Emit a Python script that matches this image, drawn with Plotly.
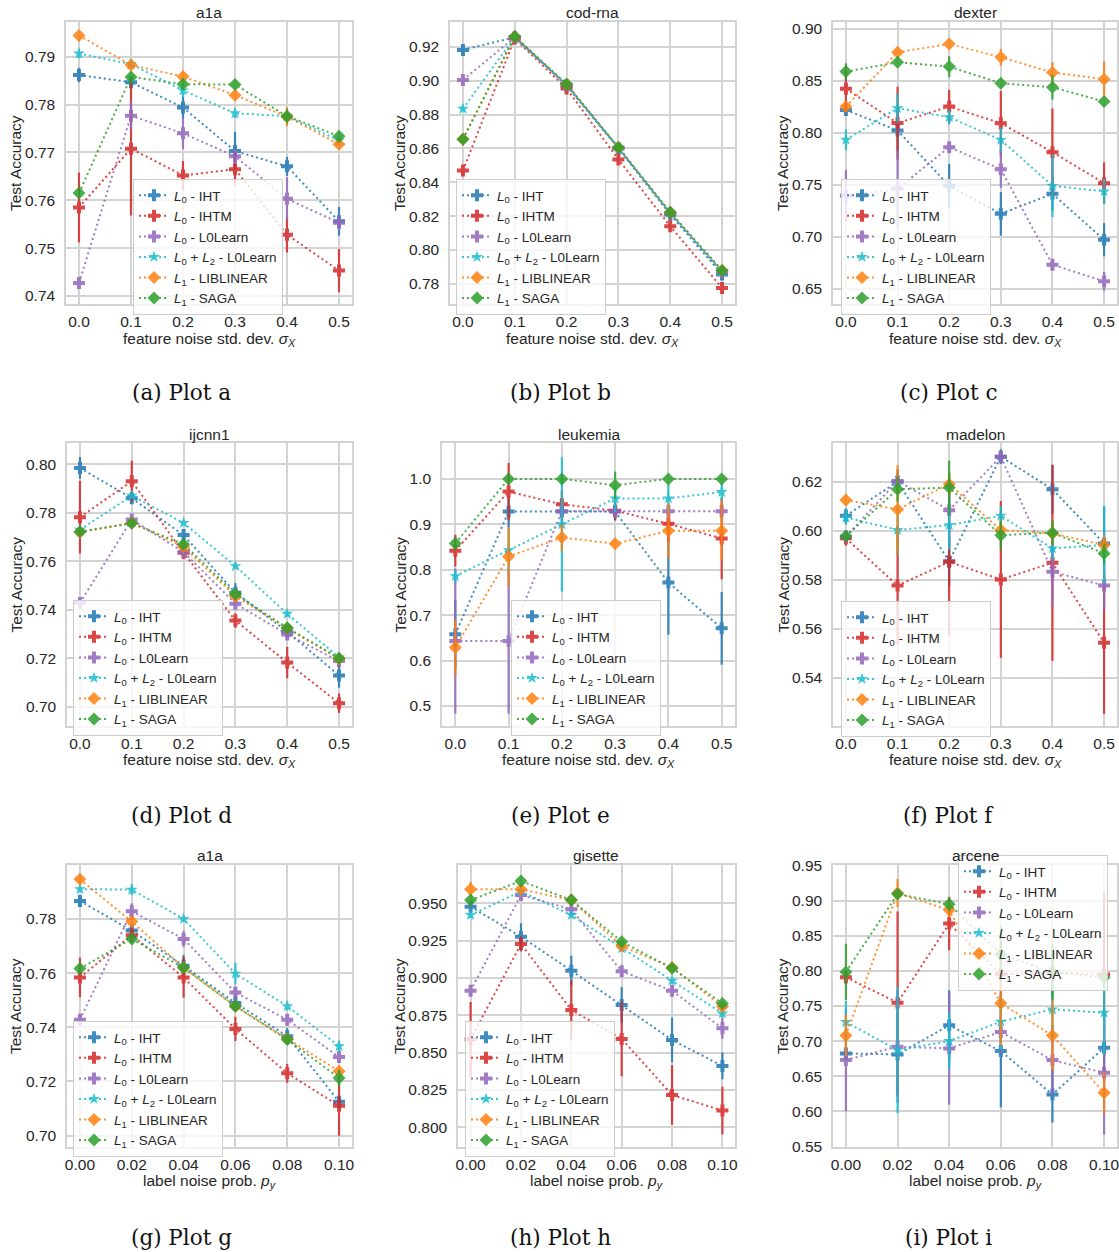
import plotly.graph_objects as go

# ---------------- data ----------------
methods = [
    "<i>L</i><sub>0</sub> - IHT",
    "<i>L</i><sub>0</sub> - IHTM",
    "<i>L</i><sub>0</sub> - L0Learn",
    "<i>L</i><sub>0</sub> + <i>L</i><sub>2</sub> - L0Learn",
    "<i>L</i><sub>1</sub> - LIBLINEAR",
    "<i>L</i><sub>1</sub> - SAGA",
]
colors = ["#1f77b4", "#d62728", "#9467bd", "#17becf", "#ff7f0e", "#2ca02c"]
symbols = ["cross", "cross", "cross", "star", "diamond", "diamond"]
msizes = [10, 10, 10, 9, 10, 10]

x_feature = [0.0, 0.1, 0.2, 0.3, 0.4, 0.5]
x_label = [0.0, 0.02, 0.04, 0.06, 0.08, 0.10]
x_feature_ticks = ["0.0", "0.1", "0.2", "0.3", "0.4", "0.5"]
x_label_ticks = ["0.00", "0.02", "0.04", "0.06", "0.08", "0.10"]

titles = ["a1a", "cod-rna", "dexter", "ijcnn1", "leukemia", "madelon", "a1a", "gisette", "arcene"]
captions = ["(a) Plot a", "(b) Plot b", "(c) Plot c", "(d) Plot d", "(e) Plot e",
            "(f) Plot f", "(g) Plot g", "(h) Plot h", "(i) Plot i"]

a_mean = [
    [0.7862, 0.7847, 0.7794, 0.7703, 0.7671, 0.7556],
    [0.7585, 0.7708, 0.7652, 0.7665, 0.7528, 0.7453],
    [0.7427, 0.7777, 0.7740, 0.7692, 0.7603, 0.7553],
    [0.7907, 0.7885, 0.7830, 0.7782, 0.7776, 0.7725],
    [0.7945, 0.7883, 0.7859, 0.7820, 0.7775, 0.7717],
    [0.7615, 0.7858, 0.7843, 0.7842, 0.7776, 0.7734],
]
a_err = [
    [0.0015, 0.001, 0.0022, 0.004, 0.002, 0.003],
    [0.0073, 0.014, 0.003, 0.0035, 0.0037, 0.0045],
    [0.0008, 0.003, 0.0033, 0.0015, 0.0045, 0.0015],
    [0.001, 0.001, 0.0015, 0.001, 0.001, 0.001],
    [0.0008, 0.001, 0.0008, 0.0012, 0.002, 0.0008],
    [0.001, 0.001, 0.0012, 0.0008, 0.0015, 0.0008],
]
b_mean = [
    [0.9183, 0.9258, 0.8972, 0.8600, 0.8210, 0.7855],
    [0.8470, 0.9250, 0.8955, 0.8535, 0.8140, 0.7775],
    [0.9005, 0.9258, 0.8975, 0.8602, 0.8215, 0.7868],
    [0.8835, 0.9258, 0.8978, 0.8604, 0.8218, 0.7872],
    [0.8655, 0.9262, 0.8980, 0.8605, 0.8222, 0.7878],
    [0.8655, 0.9262, 0.8980, 0.8605, 0.8222, 0.7878],
]
b_err = [
    [0.0015, 0.001, 0.001, 0.001, 0.001, 0.001],
    [0.003, 0.001, 0.001, 0.001, 0.001, 0.001],
    [0.001, 0.001, 0.001, 0.001, 0.001, 0.001],
    [0.001, 0.001, 0.001, 0.001, 0.001, 0.001],
    [0.001, 0.001, 0.001, 0.001, 0.001, 0.001],
    [0.001, 0.001, 0.001, 0.001, 0.001, 0.001],
]
c_mean = [
    [0.8222, 0.8024, 0.7492, 0.7223, 0.7415, 0.6974],
    [0.8425, 0.8095, 0.8254, 0.8094, 0.7816, 0.7518],
    [0.7396, 0.7463, 0.7864, 0.7652, 0.6734, 0.6574],
    [0.7935, 0.8238, 0.8152, 0.7934, 0.7492, 0.7438],
    [0.8254, 0.8776, 0.8856, 0.8728, 0.8581, 0.8517],
    [0.8590, 0.8680, 0.8638, 0.8478, 0.8440, 0.8302],
]
c_err = [
    [0.005, 0.02, 0.021, 0.021, 0.016, 0.016],
    [0.022, 0.035, 0.016, 0.031, 0.042, 0.02],
    [0.025, 0.037, 0.004, 0.018, 0.004, 0.009],
    [0.01, 0.014, 0.007, 0.012, 0.03, 0.012],
    [0.005, 0.003, 0.004, 0.008, 0.01, 0.017],
    [0.008, 0.005, 0.01, 0.004, 0.012, 0.003],
]
d_mean = [
    [0.7985, 0.7860, 0.7708, 0.7470, 0.7310, 0.7128],
    [0.7782, 0.7930, 0.7635, 0.7355, 0.7182, 0.7014],
    [0.7428, 0.7772, 0.7638, 0.7425, 0.7298, 0.7188],
    [0.7730, 0.7870, 0.7758, 0.7580, 0.7383, 0.7203],
    [0.7720, 0.7758, 0.7660, 0.7455, 0.7323, 0.7198],
    [0.7722, 0.7757, 0.7670, 0.7465, 0.7325, 0.7200],
]
d_err = [
    [0.0045, 0.002, 0.002, 0.004, 0.002, 0.005],
    [0.015, 0.0085, 0.0025, 0.003, 0.0065, 0.004],
    [0.001, 0.001, 0.001, 0.001, 0.001, 0.001],
    [0.001, 0.001, 0.001, 0.001, 0.001, 0.001],
    [0.001, 0.001, 0.001, 0.001, 0.001, 0.001],
    [0.001, 0.001, 0.001, 0.001, 0.001, 0.001],
]
e_mean = [
    [0.658, 0.928, 0.928, 0.928, 0.772, 0.671],
    [0.842, 0.972, 0.944, 0.930, 0.901, 0.869],
    [0.643, 0.643, 0.929, 0.929, 0.929, 0.929],
    [0.786, 0.843, 0.900, 0.957, 0.957, 0.971],
    [0.629, 0.829, 0.871, 0.857, 0.886, 0.886],
    [0.858, 1.000, 1.000, 0.986, 1.000, 1.000],
]
e_err = [
    [0.075, 0.035, 0.03, 0.02, 0.115, 0.08],
    [0.035, 0.063, 0.03, 0.02, 0.04, 0.09],
    [0.16, 0.16, 0.02, 0.015, 0.015, 0.015],
    [0.015, 0.05, 0.148, 0.03, 0.03, 0.02],
    [0.06, 0.065, 0.03, 0.01, 0.06, 0.065],
    [0.015, 0.001, 0.001, 0.03, 0.001, 0.001],
]
f_mean = [
    [0.6061, 0.6200, 0.5875, 0.6302, 0.6169, 0.5948],
    [0.5969, 0.5776, 0.5873, 0.5801, 0.5869, 0.5543],
    [0.5976, 0.6203, 0.6084, 0.6302, 0.5833, 0.5776],
    [0.6054, 0.6003, 0.6023, 0.6061, 0.5928, 0.5942],
    [0.6125, 0.6087, 0.6190, 0.6003, 0.5989, 0.5942],
    [0.5978, 0.6169, 0.6176, 0.5982, 0.5992, 0.5907],
]
f_err = [
    [0.003, 0.005, 0.01, 0.003, 0.01, 0.015],
    [0.003, 0.024, 0.03, 0.032, 0.04, 0.029],
    [0.002, 0.003, 0.015, 0.002, 0.014, 0.01],
    [0.003, 0.01, 0.01, 0.004, 0.005, 0.016],
    [0.002, 0.018, 0.005, 0.004, 0.005, 0.004],
    [0.002, 0.005, 0.011, 0.006, 0.005, 0.004],
]
g_mean = [
    [0.7866, 0.7757, 0.7627, 0.7490, 0.7367, 0.7125],
    [0.7584, 0.7740, 0.7584, 0.7394, 0.7230, 0.7110],
    [0.7428, 0.7828, 0.7726, 0.7528, 0.7428, 0.7290],
    [0.7910, 0.7908, 0.7800, 0.7598, 0.7478, 0.7330],
    [0.7946, 0.7790, 0.7620, 0.7478, 0.7357, 0.7238],
    [0.7617, 0.7726, 0.7620, 0.7478, 0.7355, 0.7213],
]
g_err = [
    [0.001, 0.002, 0.004, 0.003, 0.003, 0.002],
    [0.0073, 0.003, 0.0075, 0.0045, 0.0035, 0.011],
    [0.001, 0.003, 0.003, 0.002, 0.002, 0.0015],
    [0.001, 0.002, 0.001, 0.004, 0.0015, 0.002],
    [0.001, 0.002, 0.002, 0.0015, 0.002, 0.001],
    [0.001, 0.002, 0.0015, 0.0015, 0.002, 0.003],
]
h_mean = [
    [0.9478, 0.9277, 0.9049, 0.8819, 0.8585, 0.8411],
    [0.8589, 0.9228, 0.8786, 0.8592, 0.8217, 0.8112],
    [0.8915, 0.9556, 0.9460, 0.9045, 0.8915, 0.8663],
    [0.9422, 0.9580, 0.9422, 0.9199, 0.8982, 0.8763],
    [0.9594, 0.9594, 0.9522, 0.9214, 0.9071, 0.8808],
    [0.9522, 0.9650, 0.9522, 0.9243, 0.9065, 0.8830],
]
h_err = [
    [0.003, 0.009, 0.01, 0.012, 0.015, 0.009],
    [0.025, 0.005, 0.02, 0.025, 0.02, 0.016],
    [0.002, 0.003, 0.003, 0.002, 0.003, 0.007],
    [0.002, 0.002, 0.002, 0.002, 0.002, 0.003],
    [0.005, 0.003, 0.002, 0.003, 0.002, 0.002],
    [0.002, 0.003, 0.002, 0.003, 0.002, 0.002],
]
i_mean = [
    [0.6824, 0.6810, 0.7224, 0.6857, 0.6238, 0.6905],
    [0.7910, 0.7548, 0.8676, 0.7952, 0.7976, 0.7950],
    [0.6729, 0.6919, 0.6895, 0.7129, 0.6729, 0.6548],
    [0.7271, 0.6871, 0.7000, 0.7276, 0.7452, 0.7405],
    [0.7080, 0.9110, 0.8867, 0.7538, 0.7080, 0.6262],
    [0.7986, 0.9095, 0.8952, 0.8238, 0.7986, 0.7905],
]
i_err = [
    [0.01, 0.06, 0.05, 0.08, 0.04, 0.05],
    [0.01, 0.13, 0.038, 0.05, 0.03, 0.117],
    [0.073, 0.08, 0.08, 0.03, 0.05, 0.088],
    [0.03, 0.09, 0.04, 0.04, 0.04, 0.06],
    [0.03, 0.02, 0.01, 0.06, 0.05, 0.03],
    [0.04, 0.005, 0.01, 0.04, 0.04, 0.01],
]

y_ticks = [
    [0.74, 0.75, 0.76, 0.77, 0.78, 0.79],
    [0.78, 0.80, 0.82, 0.84, 0.86, 0.88, 0.90, 0.92],
    [0.65, 0.70, 0.75, 0.80, 0.85, 0.90],
    [0.70, 0.72, 0.74, 0.76, 0.78, 0.80],
    [0.5, 0.6, 0.7, 0.8, 0.9, 1.0],
    [0.54, 0.56, 0.58, 0.60, 0.62],
    [0.70, 0.72, 0.74, 0.76, 0.78],
    [0.800, 0.825, 0.850, 0.875, 0.900, 0.925, 0.950],
    [0.55, 0.60, 0.65, 0.70, 0.75, 0.80, 0.85, 0.90, 0.95],
]
y_fmt = [".2f", ".2f", ".2f", ".2f", ".1f", ".2f", ".2f", ".3f", ".2f"]

# ---------------- layout (pixels) ----------------
W, H = 1119, 1252
y_ranges = [
    [0.7383, 0.7973], [0.768, 0.9348], [0.6356, 0.9067],
    [0.692, 0.8088], [0.456, 1.079], [0.5203, 0.6358],
    [0.6958, 0.7999], [0.7868, 0.9757], [0.549, 0.951],
]
boxes = [  # x0, x1, y0(top), y1(bottom)
    (66, 352, 22, 304), (450, 735, 22, 304), (833, 1117, 22, 304),
    (67, 352, 443, 726), (442, 735, 443, 726), (833, 1117, 443, 726),
    (67, 352, 865, 1147), (458, 735, 865, 1147), (833, 1117, 865, 1147),
]
legend_pos = [  # left px, center y px
    (133, 247), (456, 247), (841, 247),
    (73, 668), (511, 668), (841, 669),
    (73, 1089), (465, 1089), (958, 923),
]
title_y = [13, 434, 855]
xlabel_y = [339, 760, 1181]
ylabel_x = [16, 400, 783]
caption_x = [181, 560, 948]
caption_y = [393, 815, 1237]

FONT = "Liberation Sans, Arial, sans-serif"
TXT = "#262626"
GRID = "#d3d3d3"

means = [a_mean, b_mean, c_mean, d_mean, e_mean, f_mean, g_mean, h_mean, i_mean]
errs = [a_err, b_err, c_err, d_err, e_err, f_err, g_err, h_err, i_err]

fig = go.Figure()
layout = dict(
    width=W, height=H, margin=dict(l=0, r=0, t=0, b=0, autoexpand=False),
    paper_bgcolor="white", plot_bgcolor="white",
    font=dict(family=FONT, size=15, color=TXT),
    annotations=[],
)

for p in range(9):
    row, col = divmod(p, 3)
    ax = "" if p == 0 else str(p + 1)
    xs = x_feature if row < 2 else x_label
    xt = x_feature_ticks if row < 2 else x_label_ticks
    xr = [-0.025, 0.525] if row < 2 else [-0.005, 0.105]
    lg = "legend" if p == 0 else "legend%d" % (p + 1)
    x0, x1, y0, y1 = boxes[p]
    for m in range(6):
        fig.add_trace(go.Scatter(
            x=xs, y=means[p][m],
            mode="lines+markers",
            name=methods[m],
            legend=lg,
            xaxis="x" + ax, yaxis="y" + ax,
            line=dict(color=colors[m], width=2, dash="2px,3px"),
            marker=dict(symbol=symbols[m], size=msizes[m], color=colors[m], line=dict(width=0)),
            error_y=dict(type="data", array=errs[p][m], color=colors[m], thickness=2.2, width=0, visible=True),
            opacity=0.85,
        ))
    layout["xaxis" + ax] = dict(
        domain=[x0 / W, x1 / W], anchor="y" + ax, range=xr,
        tickvals=xs, ticktext=xt, showgrid=True, gridcolor=GRID, gridwidth=1.5,
        showline=True, mirror=True, linecolor=GRID, linewidth=1.5, zeroline=False,
        ticks="", tickfont=dict(size=15.5, color=TXT), ticklabelstandoff=3,
        ticklabeloverflow="allow",
    )
    layout["yaxis" + ax] = dict(
        domain=[1 - y1 / H, 1 - y0 / H], anchor="x" + ax, range=y_ranges[p],
        tickvals=y_ticks[p], tickformat=y_fmt[p], showgrid=True, gridcolor=GRID, gridwidth=1.5,
        showline=True, mirror=True, linecolor=GRID, linewidth=1.5, zeroline=False,
        ticks="", tickfont=dict(size=15.5, color=TXT), ticklabelstandoff=6,
        ticklabeloverflow="allow",
    )
    lx, ly = legend_pos[p]
    layout[lg] = dict(
        x=lx / W, y=1 - ly / H, xanchor="left", yanchor="middle",
        xref="paper", yref="paper",
        bgcolor="rgba(255,255,255,0.8)", bordercolor="#cccccc", borderwidth=1,
        font=dict(size=13.5, color=TXT, family=FONT), itemwidth=30, tracegroupgap=0,
    )
    cx = (x0 + x1) / 2 / W
    layout["annotations"].append(dict(
        text=titles[p], x=cx, y=1 - title_y[row] / H, xref="paper", yref="paper",
        showarrow=False, font=dict(size=15.5, color=TXT), xanchor="center", yanchor="middle"))
    xl = ("feature noise std. dev. <i>σ</i><sub><i>X</i></sub>" if row < 2
          else "label noise prob. <i>p</i><sub><i>y</i></sub>")
    layout["annotations"].append(dict(
        text=xl, x=cx, y=1 - xlabel_y[row] / H, xref="paper", yref="paper",
        showarrow=False, font=dict(size=15.5, color=TXT), xanchor="center", yanchor="middle"))
    layout["annotations"].append(dict(
        text="Test Accuracy", x=ylabel_x[col] / W, y=1 - (y0 + y1) / 2 / H,
        xref="paper", yref="paper", textangle=-90,
        showarrow=False, font=dict(size=15.5, color=TXT), xanchor="center", yanchor="middle"))
    layout["annotations"].append(dict(
        text=captions[p], x=caption_x[col] / W, y=1 - caption_y[row] / H,
        xref="paper", yref="paper", showarrow=False,
        font=dict(size=21.5, color="#111111", family="DejaVu Serif, serif"),
        xanchor="center", yanchor="middle"))

fig.update_layout(**layout)
fig.write_html(
    "out.html",
    config={"displayModeBar": False},
    post_script="document.body.style.margin='0';document.body.style.overflow='hidden';"
                "document.documentElement.style.overflow='hidden';",
)
